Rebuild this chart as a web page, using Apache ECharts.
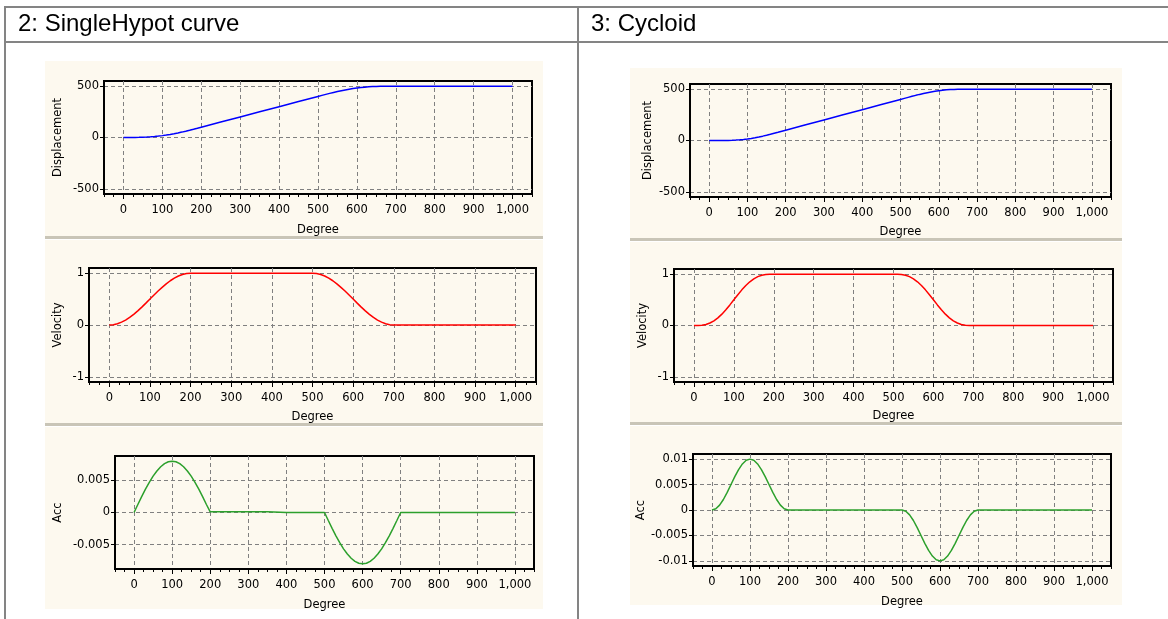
<!DOCTYPE html>
<html><head><meta charset="utf-8">
<script src="https://cdn.jsdelivr.net/npm/echarts@6/dist/echarts.min.js"></script>
<style>html,body{margin:0;padding:0;background:#fff;}#c{width:1168px;height:619px;}</style>
</head><body><div id="c"></div>
<script>
// ---------- data ----------
const degrees = [0,10,20,30,40,50,60,70,80,90,100,110,120,130,140,150,160,170,180,190,200,
  250,300,350,400,450,
  500,510,520,530,540,550,560,570,580,590,600,610,620,630,640,650,660,670,680,690,700,
  800,900,1000];

const hypotDisplacement = [0,0,0.2,0.5,1.3,2.5,4.2,6.6,9.7,13.6,18.2,23.6,29.7,36.6,44.2,52.5,61.3,70.5,80.2,90,100,
  150,200,250,300,350,
  400,410,419.8,429.5,438.7,447.5,455.8,463.4,470.3,476.4,481.8,486.4,490.3,493.4,495.8,497.5,498.7,499.5,499.8,500,500,
  500,500,500];
const hypotVelocity = [0,0.006,0.024,0.055,0.095,0.146,0.206,0.273,0.345,0.422,0.5,0.578,0.655,0.727,0.794,0.854,0.905,0.946,0.976,0.994,1,
  1,1,1,1,1,
  1,0.994,0.976,0.946,0.905,0.854,0.794,0.727,0.655,0.578,0.5,0.422,0.345,0.273,0.206,0.146,0.095,0.055,0.024,0.006,0,
  0,0,0];
const hypotAcc = [0,0.00125,0.00247,0.00363,0.0047,0.00566,0.00647,0.00713,0.00761,0.0079,0.008,0.0079,0.00761,0.00713,0.00647,0.00566,0.0047,0.00363,0.00247,0.00125,0.0001,
  0.0001,0.0001,0.0001,0,0,
  0,-0.00125,-0.00247,-0.00363,-0.0047,-0.00566,-0.00647,-0.00713,-0.00761,-0.0079,-0.008,-0.0079,-0.00761,-0.00713,-0.00647,-0.00566,-0.0047,-0.00363,-0.00247,-0.00125,0,
  0,0,0];

const cycloidDisplacement = [0,0,0,0.2,0.5,1.2,2.4,4.2,6.8,10.4,14.9,20.4,26.8,34.2,42.4,51.2,60.5,70.2,80,90,100,
  150,200,250,300,350,
  400,410,420,429.8,439.5,448.8,457.6,465.8,473.2,479.6,485.1,489.6,493.2,495.8,497.6,498.8,499.5,499.8,500,500,500,
  500,500,500];
const cycloidVelocity = [0,0.001,0.006,0.021,0.049,0.091,0.149,0.221,0.306,0.401,0.5,0.599,0.694,0.779,0.851,0.909,0.951,0.979,0.994,0.999,1,
  1,1,1,1,1,
  1,0.999,0.994,0.979,0.951,0.909,0.851,0.779,0.694,0.599,0.5,0.401,0.306,0.221,0.149,0.091,0.049,0.021,0.006,0.001,0,
  0,0,0];
const cycloidAcc = [0,0.00024,0.00096,0.00206,0.00345,0.005,0.00655,0.00794,0.00905,0.00976,0.01,0.00976,0.00905,0.00794,0.00655,0.005,0.00345,0.00206,0.00096,0.00024,0,
  0,0,0,0,0,
  0,-0.00024,-0.00096,-0.00206,-0.00345,-0.005,-0.00655,-0.00794,-0.00905,-0.00976,-0.01,-0.00976,-0.00905,-0.00794,-0.00655,-0.005,-0.00345,-0.00206,-0.00096,-0.00024,0,
  0,0,0];

const degreeTicks = [0,100,200,300,400,500,600,700,800,900,1000];
const displacementTicks = [-500,0,500];
const velocityTicks = [-1,0,1];
const hypotAccTicks = [-0.005,0,0.005];
const cycloidAccTicks = [-0.01,-0.005,0,0.005,0.01];

const headerLeft = '2: SingleHypot curve';
const headerRight = '3: Cycloid';
const xName = 'Degree';

// ---------- layout ----------
const FONT = 'DejaVu Sans';
const BEIGE = '#fdf9ef';
const panels = [
  {grid:{left:104,top:81,width:428,height:113}, y:[-550,550], ticks:displacementTicks, name:'Displacement', yGap:40, xGap:30, data:hypotDisplacement, color:'#0000ff'},
  {grid:{left:89,top:268,width:447,height:114}, y:[-1.1,1.1], ticks:velocityTicks, name:'Velocity', yGap:25, xGap:29, data:hypotVelocity, color:'#ff0000'},
  {grid:{left:115,top:456,width:419,height:113}, y:[-0.0088,0.0088], ticks:hypotAccTicks, name:'Acc', yGap:51, xGap:30, data:hypotAcc, color:'#2ca02c'},
  {grid:{left:690,top:84,width:421,height:113}, y:[-550,550], ticks:displacementTicks, name:'Displacement', yGap:36, xGap:29, data:cycloidDisplacement, color:'#0000ff'},
  {grid:{left:674,top:269,width:439,height:113}, y:[-1.1,1.1], ticks:velocityTicks, name:'Velocity', yGap:25, xGap:28, data:cycloidVelocity, color:'#ff0000'},
  {grid:{left:693,top:454,width:418,height:112}, y:[-0.011,0.011], ticks:cycloidAccTicks, name:'Acc', yGap:44, xGap:30, data:cycloidAcc, color:'#2ca02c'}
];

const dash = {color:'#808080', type:[4,3], width:1};
const txt = {fontFamily:FONT, fontSize:11.5, color:'#000'};

const grids = [], xAxes = [], yAxes = [], series = [];
panels.forEach((p,i)=>{
  grids.push(Object.assign({show:true, borderColor:'#000', borderWidth:2, backgroundColor:'transparent', containLabel:false}, p.grid));
  xAxes.push({
    type:'value', gridIndex:i, min:-50, max:1050, position:'bottom',
    axisLine:{show:true, onZero:false, lineStyle:{color:'#000', width:2}},
    axisTick:{show:true, length:5, customValues:degreeTicks, lineStyle:{color:'#000'}},
    axisLabel:Object.assign({customValues:degreeTicks, margin:10, formatter:v=>Number(v).toLocaleString('en-US')}, txt),
    splitLine:{show:true, lineStyle:dash},
    name:xName, nameLocation:'middle', nameGap:p.xGap, nameTextStyle:txt
  });
  yAxes.push({
    type:'value', gridIndex:i, min:p.y[0], max:p.y[1], position:'left',
    axisLine:{show:true, onZero:false, lineStyle:{color:'#000', width:2}},
    axisTick:{show:true, length:4, customValues:p.ticks, lineStyle:{color:'#000'}},
    axisLabel:Object.assign({customValues:p.ticks, margin:5, formatter:v=>String(v)}, txt),
    splitLine:{show:true, lineStyle:dash},
    name:p.name, nameLocation:'middle', nameGap:p.yGap, nameTextStyle:txt
  });
  series.push({
    type:'line', xAxisIndex:i, yAxisIndex:i, symbol:'none', showSymbol:false, smooth:false,
    lineStyle:{color:p.color, width:1.5}, data:degrees.map((d,k)=>[d,p.data[k]]), z:5
  });
});
// minor ticks every 25 degrees
panels.forEach((p,i)=>{
  xAxes.push({
    type:'value', gridIndex:i, min:-50, max:1050, interval:25, position:'bottom',
    axisLine:{show:false, onZero:false}, axisTick:{show:true, length:3, lineStyle:{color:'#000'}},
    axisLabel:{show:false}, splitLine:{show:false}
  });
});

const graphic = [
  {type:'rect', shape:{x:45,y:61,width:498,height:548}, style:{fill:BEIGE}, z:-10, silent:true},
  {type:'rect', shape:{x:630,y:68,width:492,height:537}, style:{fill:BEIGE}, z:-10, silent:true},
  // splitters
  {type:'rect', shape:{x:45,y:236,width:498,height:3}, style:{fill:'#c9c5b7'}, z:-9},
  {type:'rect', shape:{x:45,y:239,width:498,height:1}, style:{fill:'#ffffff'}, z:-9},
  {type:'rect', shape:{x:45,y:423,width:498,height:3}, style:{fill:'#c9c5b7'}, z:-9},
  {type:'rect', shape:{x:45,y:426,width:498,height:1}, style:{fill:'#ffffff'}, z:-9},
  {type:'rect', shape:{x:630,y:238,width:492,height:3}, style:{fill:'#c9c5b7'}, z:-9},
  {type:'rect', shape:{x:630,y:241,width:492,height:1}, style:{fill:'#ffffff'}, z:-9},
  {type:'rect', shape:{x:630,y:422,width:492,height:3}, style:{fill:'#c9c5b7'}, z:-9},
  {type:'rect', shape:{x:630,y:425,width:492,height:1}, style:{fill:'#ffffff'}, z:-9},
  // table lines
  {type:'rect', shape:{x:4,y:6,width:1164,height:2}, style:{fill:'#848484'}},
  {type:'rect', shape:{x:4,y:41,width:1164,height:2}, style:{fill:'#848484'}},
  {type:'rect', shape:{x:4,y:6,width:2,height:613}, style:{fill:'#848484'}},
  {type:'rect', shape:{x:577,y:6,width:2,height:613}, style:{fill:'#848484'}},
  // headers
  {type:'text', x:18, y:12, style:{text:headerLeft, fontFamily:'Liberation Sans', fontSize:24, fill:'#000', verticalAlign:'top'}},
  {type:'text', x:591, y:12, style:{text:headerRight, fontFamily:'Liberation Sans', fontSize:24, fill:'#000', verticalAlign:'top'}}
];

const chart = echarts.init(document.getElementById('c'), null, {renderer:'canvas'});
chart.setOption({
  backgroundColor:'#ffffff', animation:false,
  grid:grids, xAxis:xAxes, yAxis:yAxes, series:series, graphic:graphic
});
</script></body></html>
